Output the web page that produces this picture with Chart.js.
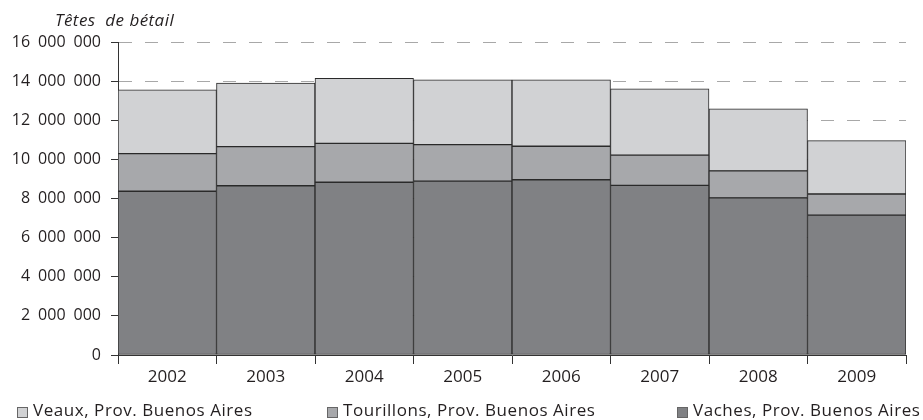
<!DOCTYPE html>
<html>
<head>
<meta charset="utf-8">
<script src="https://cdn.jsdelivr.net/npm/chart.js@4"></script>
<style>
  html, body { margin: 0; padding: 0; background: #fff; }
  #wrap { position: relative; width: 923px; height: 420px; }
  #c { position: absolute; left: 0; top: 0; }
  #title { position: absolute; left: 55px; top: 10px; font: italic 17px "Open Sans", sans-serif; letter-spacing: 0.45px; line-height: 20px; color: #231f20; white-space: nowrap; }
  .leg { position: absolute; top: 400px; font: 17px "Open Sans", sans-serif; letter-spacing: 0.55px; color: #231f20; white-space: nowrap; line-height: 20px; }
  .leg i { position: absolute; left: 0; top: 7px; width: 9px; height: 9px; border: 1px solid #666; }
  .leg span { position: absolute; left: 16px; top: 0; }
</style>
</head>
<body>
<div id="wrap">
  <canvas id="c" width="923" height="420"></canvas>
  <div id="title">Têtes&nbsp; de bétail</div>
  <div class="leg" style="left:17px"><i style="background:#d1d2d4"></i><span>Veaux, Prov. Buenos Aires</span></div>
  <div class="leg" style="left:327px"><i style="background:#a7a8ab"></i><span>Tourillons, Prov. Buenos Aires</span></div>
  <div class="leg" style="left:677px"><i style="background:#808184"></i><span>Vaches, Prov. Buenos Aires</span></div>
</div>
<script>
const categories = ["2002", "2003", "2004", "2005", "2006", "2007", "2008", "2009"];
const vaches     = [8370000, 8650000, 8830000, 8890000, 8960000, 8670000, 8030000, 7150000];
const tourillons = [1920000, 2000000, 1990000, 1860000, 1710000, 1550000, 1380000, 1080000];
const veaux      = [3260000, 3250000, 3320000, 3310000, 3390000, 3390000, 3170000, 2730000];
const seriesNames = ["Vaches, Prov. Buenos Aires", "Tourillons, Prov. Buenos Aires", "Veaux, Prov. Buenos Aires"];
const yTicks = [0, 2000000, 4000000, 6000000, 8000000, 10000000, 12000000, 14000000, 16000000];

const fmt = v => String(v).replace(/\B(?=(\d{3})+(?!\d))/g, "\u2002");
const ink = "#231f20";

const mk = (label, data, color) => ({
  label, data, backgroundColor: color, borderColor: "#2a2a2a", borderWidth: 1,
  borderSkipped: false, barPercentage: 1, categoryPercentage: 1
});

new Chart(document.getElementById("c"), {
  type: "bar",
  data: {
    labels: categories,
    datasets: [
      mk(seriesNames[0], vaches, "#808184"),
      mk(seriesNames[1], tourillons, "#a7a8ab"),
      mk(seriesNames[2], veaux, "#d1d2d4")
    ]
  },
  options: {
    responsive: false,
    animation: false,
    devicePixelRatio: 1,
    layout: { padding: { left: 0, right: 17, top: 42, bottom: 31 } },
    plugins: { legend: { display: false }, tooltip: { enabled: false }, title: { display: false } },
    scales: {
      x: {
        stacked: true,
        offset: true,
        grid: { offset: true, drawOnChartArea: false, drawTicks: true, tickLength: 9, tickColor: "#333", lineWidth: 1 },
        border: { display: true, color: "#333", width: 1 },
        ticks: { color: ink, font: { family: "Open Sans", size: 17 }, padding: 3, maxRotation: 0 },
        afterFit: s => { s.height = 34; }
      },
      y: {
        stacked: true,
        min: 0, max: 16000000,
        afterBuildTicks: s => { s.ticks = yTicks.map(v => ({ value: v })); },
        grid: {
          color: ctx => (ctx.tick && ctx.tick.value === 0) ? "rgba(0,0,0,0)" : "#a8a8a8",
          lineWidth: 1, drawTicks: true, tickLength: 7, tickColor: "#333", tickBorderDash: [], tickWidth: 1
        },
        border: { display: true, color: "#333", width: 1, dash: [13, 13] },
        ticks: { color: ink, font: { family: "Open Sans", size: 16 }, padding: 10, callback: v => fmt(v) },
        afterFit: s => { s.width = 118; }
      }
    }
  }
});
</script>
</body>
</html>
